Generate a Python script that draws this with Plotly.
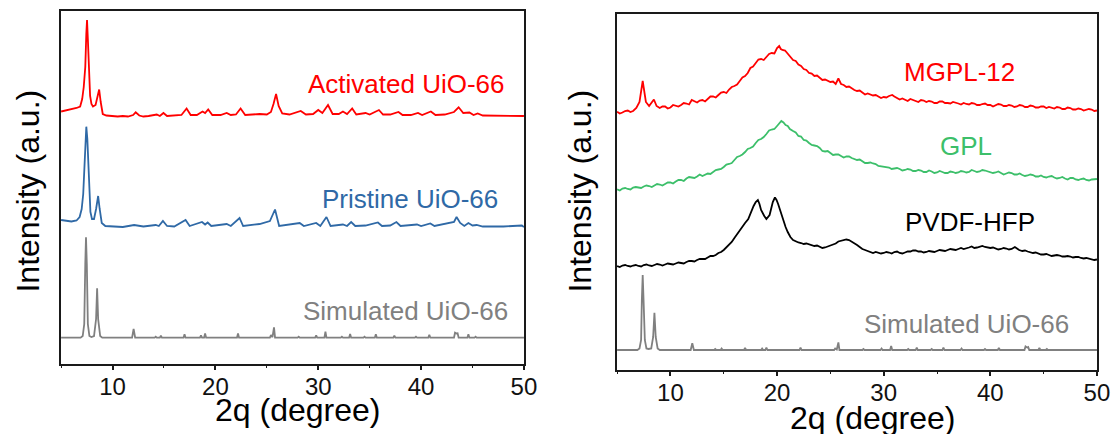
import plotly.graph_objects as go

# ---------------- data (2-theta in degrees, intensity in a.u. incl. stacking offset) -------------
# Left panel
act_x = [5, 5.5, 6, 6.5, 6.85, 7.05, 7.2, 7.35, 7.45, 7.52, 7.6, 7.68, 7.82, 7.95, 8.1, 8.35, 8.55, 8.7, 8.85, 9.05,
         9.4, 10, 10.5, 11, 11.5, 12.0, 12.25, 12.6, 13, 13.5, 14.3, 14.6, 14.95, 15.3, 16, 16.7, 17.2, 17.6, 18.2,
         18.75, 19.0, 19.3, 19.7, 20.5, 21.1, 21.5, 22.0, 22.45, 22.9, 23.5, 24.3, 25.0, 25.4, 25.65, 25.9, 26.15,
         26.5, 27.2, 28.3, 28.8, 29.5, 30.0, 30.4, 30.95, 31.4, 32.0, 32.4, 32.8, 33.3, 33.7, 34.6, 35.0, 35.9, 36.3,
         37.0, 37.8, 38.2, 39.0, 39.7, 40.1, 40.95, 41.4, 42.3, 43.2, 43.65, 44.1, 44.7, 45.1, 45.5, 46, 47, 48, 49, 50]
act_y = [252.5, 253.5, 255, 256, 257.5, 265, 277, 297, 330, 344, 325, 297, 268, 260, 257.5, 259, 268, 274.5, 262, 250,
         248.5, 248, 247.5, 248, 247.5, 249, 251.7, 248.5, 247.5, 248, 249.5, 248, 251, 248, 248.5, 249, 255.5, 249, 249,
         252.5, 251, 254.5, 249, 249, 251, 249, 249.5, 255.5, 249, 249.5, 250, 249.5, 252, 260, 270, 258,
         250.5, 249.5, 253, 249.5, 250, 254, 251, 259, 250, 250, 252.5, 250, 255.5, 249.5, 251, 249.5, 254, 249.5,
         249.5, 252, 249, 249, 251, 249, 252.5, 249, 249.5, 252, 256.7, 251, 251.5, 249, 250.5, 248.5, 248.5, 248, 248.5, 248]

pri_x = [5, 5.5, 6, 6.5, 6.8, 7.0, 7.15, 7.3, 7.45, 7.55, 7.7, 7.85, 8.0, 8.2, 8.4, 8.6, 8.75, 8.95, 9.3, 10, 11, 12.1,
         13, 14.2, 14.5, 14.9, 15.3, 16, 17.1, 17.5, 18.7, 19.0, 19.25, 19.6, 21.1, 21.5, 22.35, 22.7, 24.3, 25.3, 25.8,
         26.2, 28.2, 28.6, 29.8, 30.2, 30.8, 31.2, 32.4, 32.8, 33.2, 33.6, 34.6, 35.8, 36.2, 37.0, 37.6, 38, 39.6, 40.0,
         40.9, 41.3, 43.2, 43.45, 43.8, 44.2, 44.6, 45.0, 45.4, 46, 48, 49.8, 50]
pri_y = [144, 143, 142.5, 143.5, 147, 155, 170, 204, 237.3, 225, 180, 152, 145, 145, 155, 168, 155, 141, 138, 137.5, 137, 139,
         137.5, 139, 138, 143, 138, 137.5, 144, 138, 142, 139.5, 141.5, 138, 140, 138, 146, 138, 140, 143, 154.5,
         138, 141, 138, 141, 138, 147, 138, 139.5, 138, 142, 138, 138.5, 141.5, 138, 138.5, 142, 138, 139.5, 138,
         140.5, 138, 142, 147, 141, 138, 141, 138.5, 139, 137.5, 137.5, 138.5, 137]

sim_x = [5, 6.9, 7.1, 7.25, 7.35, 7.42, 7.5, 7.6, 7.75, 7.95, 8.2, 8.4, 8.5, 8.6, 8.8, 9.0, 11.9, 12.05, 12.2, 14.1, 14.2,
         14.3, 14.6, 14.7, 14.8, 16.9, 17.0, 17.1, 18.5, 18.6, 18.7, 18.9, 19.0, 19.1, 22.1, 22.2, 22.3, 25.3, 25.4,
         25.55, 25.7, 25.8, 28.0, 28.1, 28.2, 29.7, 29.8, 29.9, 30.6, 30.7, 30.8, 32.2, 32.3, 32.4, 33.0, 33.1, 33.2,
         34.4, 34.5, 34.6, 35.5, 35.6, 35.7, 37.3, 37.4, 37.5, 39.4, 39.5, 39.6, 40.7, 40.8, 40.9, 43.2, 43.3, 43.45,
         43.55, 43.65, 44.5, 44.6, 44.7, 45.2, 45.3, 45.4, 50]
sim_y = [26.3, 26.3, 28, 40, 100, 126.7, 100, 40, 28, 27, 28, 45, 75.7, 45, 28, 26.3, 26.3, 35, 26.3, 26.3, 27.3,
         26.3, 26.3, 28.3, 26.3, 26.3, 29.7, 26.3, 26.3, 28.5, 26.3, 26.3, 30.5, 26.3, 26.3, 30.5, 26.3, 26.3, 29,
         26.8, 36.7, 26.3, 26.3, 27.3, 26.3, 26.3, 28.5, 26.3, 26.3, 32.3, 26.3, 26.3, 27.3, 26.3, 26.3, 30, 26.3,
         26.3, 27.3, 26.3, 26.3, 29.7, 26.3, 26.3, 28.3, 26.3, 26.3, 27.3, 26.3, 26.3, 29.3, 26.3, 26.3, 31.3, 30.5,
         30.7, 26.3, 26.3, 29.7, 26.3, 26.3, 27.3, 26.3, 26.3]

# Right panel
mgpl_x = [5, 5.25, 5.5, 5.75, 6, 6.25, 6.5, 6.8, 7.1, 7.3, 7.4, 7.5, 7.7, 8.0, 8.3, 8.45, 8.7, 9.0, 9.25, 9.5, 9.75,
          10, 10.25, 10.5, 10.75, 11, 11.25, 11.5, 11.75, 12, 12.25, 12.5, 12.75, 13, 13.25, 13.5, 13.75, 14, 14.25,
          14.5, 14.75, 15, 15.25, 15.5, 15.75, 16, 16.25, 16.5, 16.75, 17, 17.25, 17.5, 17.75, 18, 18.25, 18.5, 18.75,
          19, 19.25, 19.5, 19.75, 20, 20.2, 20.35, 20.5, 20.75, 21, 21.25, 21.5, 21.75, 22, 22.25, 22.5, 22.75, 23,
          23.25, 23.5, 23.75, 24, 24.25, 24.5, 24.75, 25, 25.25, 25.5, 25.75, 26, 26.25, 26.5, 26.75, 27, 27.25, 27.5,
          27.75, 28, 28.25, 28.5, 28.75, 29, 29.25, 29.5, 29.75, 30, 30.25, 30.5, 30.8, 31.0, 31.2, 31.5, 31.75, 32,
          32.25, 32.5, 32.75, 33, 33.25, 33.5, 33.75, 34, 34.25, 34.5, 34.75, 35, 35.25, 35.5, 35.75, 36, 36.25, 36.5,
          36.75, 37, 37.25, 37.5, 37.75, 38, 38.25, 38.5, 38.75, 39, 39.25, 39.5, 39.75, 40, 40.25, 40.5, 40.75, 41,
          41.25, 41.5, 41.75, 42, 42.25, 42.5, 42.75, 43, 43.25, 43.5, 43.75, 44, 44.25, 44.5, 44.75, 45, 45.25, 45.5,
          45.75, 46, 46.25, 46.5, 46.75, 47, 47.25, 47.5, 47.75, 48, 48.25, 48.5, 48.75, 49, 49.25, 49.5, 49.75, 50]
mgpl_y = [258.3, 256.5, 257.5, 259, 259.5, 258, 259, 262, 268, 282, 289, 282, 268, 264, 269, 270.5, 264, 262, 263.5,
          263.5, 261.5, 262.5, 265, 264.5, 263.5, 265, 267, 266.5, 265.5, 270, 268.5, 267.5, 269.5, 270, 268.5, 271,
          273.5, 273.5, 272.5, 275, 277.5, 278, 277, 280.5, 283, 284, 285.5, 289, 292.5, 294, 297, 302, 303.5, 307,
          310.5, 311, 310, 313, 316, 317, 316.5, 322, 324, 321, 320, 319.5, 316, 313.5, 310, 309, 305.5, 304, 301,
          300, 297, 296.5, 294, 294.5, 292, 290, 290.5, 289, 288, 288.5, 286, 291.5, 286, 285, 283, 283.5, 281.5, 280,
          279, 279.5, 277.5, 275.5, 276.5, 275.5, 274.5, 275, 273.5, 272, 273, 272.5, 274, 275, 273.5, 272, 270.5,
          271.5, 270, 269, 271, 270, 269, 268, 270, 269.5, 268, 269, 268.5, 267, 267, 268.5, 268.5, 267, 267, 266.5,
          268, 267.5, 266.5, 265.5, 267, 266, 265.5, 267, 266.5, 265, 265, 266, 266.5, 265, 265, 263.5, 264.5, 266,
          265.5, 264, 264, 265, 264.5, 263, 263.5, 265, 264.5, 263, 263, 264.5, 264, 262.5, 262.5, 263.5, 263.5, 262,
          263, 262, 261.5, 263, 262.5, 261, 261, 262.5, 262, 260.5, 260.5, 261.5, 261, 259.5, 260, 261, 260.5, 259,
          259.5]

gpl_x = [5, 5.25, 5.5, 5.75, 6, 6.25, 6.5, 6.75, 7, 7.25, 7.5, 7.75, 8, 8.25, 8.5, 8.75, 9, 9.25, 9.5, 9.75, 10,
         10.25, 10.5, 10.75, 11, 11.25, 11.5, 11.75, 12, 12.25, 12.5, 12.75, 13, 13.25, 13.5, 13.75, 14, 14.25, 14.5,
         14.75, 15, 15.25, 15.5, 15.75, 16, 16.25, 16.5, 16.75, 17, 17.25, 17.5, 17.75, 18, 18.25, 18.5, 18.75, 19,
         19.25, 19.5, 19.75, 20, 20.2, 20.4, 20.6, 20.8, 21.0, 21.2, 21.5, 21.75, 22, 22.25, 22.5, 22.75, 23, 23.25,
         23.5, 23.75, 24, 24.25, 24.5, 24.75, 25, 25.25, 25.5, 25.75, 26, 26.25, 26.5, 26.75, 27, 27.25, 27.5, 27.75,
         28, 28.25, 28.5, 28.75, 29, 29.25, 29.5, 29.75, 30, 30.25, 30.5, 30.75, 31, 31.25, 31.5, 31.75, 32, 32.25,
         32.5, 32.75, 33, 33.25, 33.5, 33.75, 34, 34.25, 34.5, 34.75, 35, 35.25, 35.5, 35.75, 36, 36.25, 36.5, 36.75,
         37, 37.25, 37.5, 37.75, 38, 38.25, 38.5, 38.75, 39, 39.25, 39.5, 39.75, 40, 40.25, 40.5, 40.75, 41, 41.25,
         41.5, 41.75, 42, 42.25, 42.5, 42.75, 43, 43.25, 43.5, 43.75, 44, 44.25, 44.5, 44.75, 45, 45.25, 45.5, 45.75,
         46, 46.25, 46.5, 46.75, 47, 47.25, 47.5, 47.75, 48, 48.25, 48.5, 48.75, 49, 49.25, 49.5, 49.75, 50]
gpl_y = [180.7, 179.5, 181.5, 182, 181, 180.5, 182.5, 183, 182.5, 182, 183.5, 184.5, 184, 183, 184.5, 186, 185.5,
         184.5, 186, 187.5, 187.5, 186.5, 188.5, 190, 190, 189, 191.5, 193, 192.5, 192, 193.5, 195.5, 194, 195, 196.5,
         196, 198, 200, 200.5, 201, 203, 205.5, 206, 207, 210, 213, 214, 215.5, 218, 221, 222, 223.5, 227, 230, 231,
         233, 236, 239.5, 240.5, 241, 244, 247, 249, 247.5, 245, 244, 241, 239, 237.5, 234, 233.5, 230, 229.5, 227,
         225, 224.5, 224, 222, 219, 218.5, 219, 217, 215, 215.5, 215.5, 214, 212.5, 213.5, 213.5, 212, 211, 210,
         210.5, 208.5, 207, 207, 207.5, 206.5, 206, 204, 203.5, 203.5, 203, 202.5, 201, 201.5, 202, 201, 199.5, 200,
         201, 200.5, 199, 199, 200, 199.5, 198, 198, 199.5, 198.5, 197, 197.5, 199, 198, 197, 197, 198.5, 198, 197,
         197.5, 199, 198.5, 197.5, 198, 200, 199, 198, 198.5, 200, 199.5, 198.5, 198, 197, 197.5, 198.5, 197, 195.5,
         196.5, 197.5, 197, 195.5, 195.5, 196.5, 195, 194, 194.5, 195.5, 195, 193.5, 193.5, 194.5, 193, 192.5, 193.5,
         194, 192.5, 191.5, 192, 193, 191.5, 190.5, 192, 192, 190.5, 190, 191, 191.5, 190, 189.5, 190.5, 191, 191]

pvdf_x = [5, 5.25, 5.5, 5.75, 6, 6.25, 6.5, 6.75, 7, 7.25, 7.5, 7.75, 8, 8.25, 8.5, 8.75, 9, 9.25, 9.5, 9.75, 10,
          10.25, 10.5, 10.75, 11, 11.25, 11.5, 11.75, 12, 12.25, 12.5, 12.75, 13, 13.25, 13.5, 13.75, 14, 14.25, 14.5,
          14.75, 15, 15.25, 15.5, 15.75, 16, 16.25, 16.5, 16.75, 17, 17.3, 17.6, 17.8, 18.0, 18.2, 18.35, 18.5, 18.8,
          19.0, 19.3, 19.6, 19.8, 19.95, 20.1, 20.4, 20.6, 20.8, 21, 21.25, 21.5, 21.75, 22, 22.25, 22.5, 22.75, 23,
          23.25, 23.5, 23.75, 24, 24.25, 24.5, 24.75, 25, 25.25, 25.5, 25.75, 26, 26.25, 26.5, 26.75, 27, 27.25, 27.5,
          27.75, 28, 28.25, 28.5, 28.75, 29, 29.25, 29.5, 29.75, 30, 30.25, 30.5, 30.75, 31, 31.25, 31.5, 31.75, 32,
          32.25, 32.5, 32.75, 33, 33.25, 33.5, 33.75, 34, 34.25, 34.5, 34.75, 35, 35.25, 35.5, 35.75, 36, 36.25, 36.5,
          36.75, 37, 37.25, 37.5, 37.75, 38, 38.25, 38.5, 38.75, 39, 39.25, 39.5, 39.75, 40, 40.25, 40.5, 40.75, 41,
          41.25, 41.5, 41.75, 42, 42.3, 42.5, 42.7, 43, 43.25, 43.5, 43.75, 44, 44.25, 44.5, 44.75, 45, 45.25, 45.5,
          45.75, 46, 46.25, 46.5, 46.75, 47, 47.25, 47.5, 47.75, 48, 48.25, 48.5, 48.75, 49, 49.25, 49.5, 49.75, 50]
pvdf_y = [104, 103, 104.5, 105, 104, 103.5, 104.5, 105, 104, 103.5, 105, 105.5, 104.5, 104, 105, 106, 105.5, 104.5,
          105.5, 106.5, 106, 105.5, 106.5, 107.5, 107, 106.5, 108, 109, 109, 108.5, 110, 111, 111, 111, 112.5, 114, 114,
          115, 117, 118, 120, 122.5, 125, 128, 132, 136, 140, 143, 147, 151, 160, 164, 168, 170, 166, 160, 154, 151,
          155, 168, 172.5, 170, 166, 155, 148, 143, 138, 133, 130, 128.5, 127.5, 127, 126, 126.5, 125.5, 124.5, 124,
          124.5, 123, 122, 122.5, 123.5, 124, 125, 126.5, 128.5, 129, 130, 130.5, 130, 128.5, 127, 125, 123, 121, 120,
          119, 118, 117, 118, 117.5, 116.5, 117, 118, 117.5, 116.5, 118, 118.5, 117, 116.5, 117.5, 118.5, 118.5, 119.5,
          119.5, 118.5, 118.5, 117.5, 118, 119, 118.5, 118, 119, 120, 119.5, 119, 120, 121, 120.5, 120, 121, 122, 121,
          121.5, 122.5, 123.5, 122, 122.5, 123.5, 124, 123, 122.5, 122, 122.5, 121.5, 120.5, 121, 122, 121.5, 120.5,
          121, 123, 121.5, 120, 119, 119.5, 118.5, 117.5, 117, 117.5, 116.5, 115.5, 115.5, 116, 115, 114, 114.5, 115,
          114.5, 113.5, 113.5, 114, 113.5, 112.5, 113, 113, 112, 111.5, 112, 111.5, 111, 110, 110.5]

sim2_x = [5, 6.9, 7.1, 7.25, 7.32, 7.4, 7.48, 7.6, 7.75, 7.95, 8.2, 8.38, 8.5, 8.62, 8.8, 9.0, 11.9, 12.05, 12.2, 14.1,
          14.2, 14.3, 14.7, 14.8, 14.9, 16.9, 17.0, 17.1, 18.5, 18.6, 18.7, 18.9, 19.0, 19.1, 22.1, 22.2, 22.3, 25.35,
          25.45, 25.6, 25.75, 25.85, 28.0, 28.1, 28.2, 29.7, 29.8, 29.9, 30.6, 30.7, 30.8, 32.2, 32.3, 32.4, 33.0,
          33.1, 33.2, 34.4, 34.5, 34.6, 35.5, 35.6, 35.7, 37.2, 37.3, 37.4, 39.4, 39.5, 39.6, 40.7, 40.8, 40.9, 43.2,
          43.3, 43.45, 43.55, 43.65, 44.5, 44.6, 44.7, 45.2, 45.3, 45.4, 50]
sim2_y = [20, 20, 21.5, 30, 70, 95, 70, 30, 21.5, 21, 21.5, 33, 57.3, 33, 21.5, 20, 20, 26.7, 20, 20, 21, 20, 20, 21.5,
          20, 20, 22, 20, 20, 21.5, 20, 20, 22.5, 20, 20, 22.5, 20, 20, 21.5, 20.5, 27.5, 20, 20, 21, 20, 20, 21.5,
          20, 20, 24, 20, 20, 21, 20, 20, 22.5, 20, 20, 21, 20, 20, 22.5, 20, 20, 21.5, 20, 20, 21, 20, 20, 22, 20,
          20, 23.5, 22.5, 23, 20, 20, 22, 20, 20, 21, 20, 20]

x_ticks = [10, 20, 30, 40, 50]
x_tick_labels = ["10", "20", "30", "40", "50"]

RED = "#ff0000"
BLUE = "#2f69a6"
GREEN = "#3cbf6a"
GRAY = "#808080"
BLACK = "#000000"
FONT = "Liberation Sans, Arial, sans-serif"

FIG_W = 1127     # the captured page is slightly wider than the final picture
FIG_H = 434
IMG_W = 1112.0

fig = go.Figure()
lw = 1.8
for xs, ys, c, ax in [
    (act_x, act_y, RED, "1"), (pri_x, pri_y, BLUE, "1"), (sim_x, sim_y, GRAY, "1"),
    (mgpl_x, mgpl_y, RED, "2"), (gpl_x, gpl_y, GREEN, "2"), (pvdf_x, pvdf_y, BLACK, "2"), (sim2_x, sim2_y, GRAY, "2"),
]:
    fig.add_trace(go.Scatter(x=xs, y=ys, mode="lines", line=dict(color=c, width=lw),
                             xaxis="x" if ax == "1" else "x2", yaxis="y" if ax == "1" else "y2",
                             showlegend=False, hoverinfo="skip"))

def W(p):
    return p / IMG_W

def H(p):
    return 1 - p / float(FIG_H)

xcommon = dict(range=[5, 50], tickvals=x_ticks, ticktext=x_tick_labels, ticks="outside", ticklen=4, tickwidth=1.5,
               tickcolor="#1a1a1a", showline=True, mirror=True, linewidth=2, linecolor="#1a1a1a", showgrid=False,
               zeroline=False, tickfont=dict(family=FONT, size=24, color="#111111"), ticklabelstandoff=-4,
               minor=dict(dtick=5, tick0=5, ticks="outside", ticklen=2, tickwidth=1.2, tickcolor="#1a1a1a",
                          showgrid=False))
ycommon = dict(showticklabels=False, ticks="", showline=True, mirror=True, linewidth=2, linecolor="#1a1a1a",
               showgrid=False, zeroline=False)

fig.update_layout(
    width=FIG_W, height=FIG_H, margin=dict(l=0, r=0, t=0, b=0),
    paper_bgcolor="white", plot_bgcolor="white",
    xaxis=dict(domain=[W(61), W(523)], anchor="y", **xcommon),
    yaxis=dict(domain=[H(364), H(11)], anchor="x", range=[0, 353], **ycommon),
    xaxis2=dict(domain=[W(616), W(1095)], anchor="y2", **xcommon),
    yaxis2=dict(domain=[H(370), H(14)], anchor="x2", range=[0, 356], **ycommon),
)

ann = []
def label(text, xr, yc, color, size=26, anchor="right"):
    ann.append(dict(text=text, x=W(xr), y=H(yc), xref="paper", yref="paper", xanchor=anchor, yanchor="middle",
                    showarrow=False, font=dict(family=FONT, size=size, color=color)))

label("Activated UiO-66", 506, 84, RED)
label("Pristine UiO-66", 499, 199, BLUE)
label("Simulated UiO-66", 509, 311, GRAY)
label("MGPL-12", 1015, 72, RED)
label("GPL", 992, 146, GREEN)
label("PVDF-HFP", 1035, 222, BLACK)
label("Simulated UiO-66", 1069, 324, GRAY)

label("2q (degree)", 297, 410, BLACK, size=32, anchor="center")
label("2q (degree)", 871, 418, BLACK, size=32, anchor="center")
for xc in (27.5, 578.5):
    ann.append(dict(text="Intensity (a.u.)", x=W(xc), y=H(191), xref="paper", yref="paper", xanchor="center",
                    yanchor="middle", textangle=-90, showarrow=False,
                    font=dict(family=FONT, size=32, color=BLACK)))

fig.update_layout(annotations=ann)
fig.write_html("out.html")
